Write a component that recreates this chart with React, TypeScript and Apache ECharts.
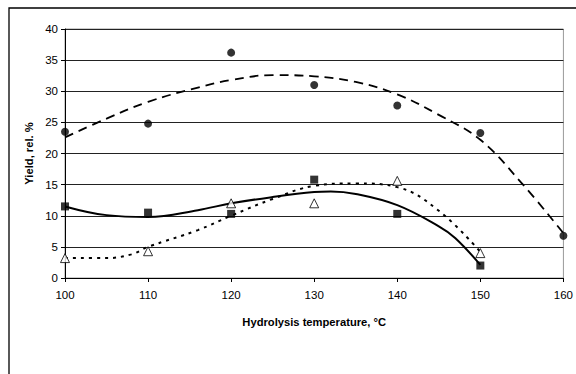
import React, { useEffect, useRef } from "react";
import * as echarts from "echarts";

const temps = [100, 110, 120, 130, 140, 150, 160];
const circleVals = [23.5, 24.8, 36.2, 31.0, 27.7, 23.3, 6.8];
const squareTemps = [100, 110, 120, 130, 140, 150];
const squareVals = [11.5, 10.5, 10.3, 15.8, 10.3, 2.0];
const triangleTemps = [100, 110, 120, 130, 140, 150];
const triangleVals = [3.2, 4.3, 12.0, 12.0, 15.6, 4.0];

// trend curves
const dashTemps = [100, 105, 110, 116, 120, 125, 130, 135, 140, 145, 150, 155, 160];
const dashVals = [22.6, 25.6, 28.3, 30.6, 31.8, 32.6, 32.4, 31.5, 29.5, 26.2, 22.2, 15.2, 7.2];
const solidTemps = [100, 105, 110, 116, 120, 125, 130, 132, 135, 140, 145, 147, 150];
const solidVals = [11.5, 10.1, 9.8, 10.9, 12.0, 13.0, 13.8, 13.9, 13.5, 11.7, 8.3, 6.4, 2.1];
const dotTemps = [100, 105, 108, 110, 116, 120, 125, 130, 135, 140, 145, 150];
const dotVals = [3.2, 3.2, 3.8, 5.0, 7.7, 10.0, 12.7, 14.8, 15.2, 14.6, 10.8, 4.2];

const xTitle = "Hydrolysis temperature, °C";
const yTitle = "Yield, rel. %";

const zip = (xs: number[], ys: number[]) => xs.map((x, i) => [x, ys[i]]);

export default function App() {
  const ref = useRef<HTMLDivElement>(null);
  useEffect(() => {
    if (!ref.current) return;
    const chart = echarts.init(ref.current, null, { renderer: "svg" });
    const font = "'Liberation Sans', Arial, sans-serif";
    chart.setOption({
      animation: false,
      backgroundColor: "#fff",
      textStyle: { fontFamily: font },
      graphic: [
        {
          type: "rect",
          shape: { x: 9, y: 8, width: 600, height: 400 },
          style: { fill: "none", stroke: "#000", lineWidth: 1.3 },
          silent: true,
          z: -1,
        },
      ],
      grid: { left: 65, right: 12, top: 29, bottom: 96, show: true, borderColor: "#999", borderWidth: 1, backgroundColor: "transparent" },
      xAxis: {
        type: "value",
        min: 100,
        max: 160,
        interval: 10,
        name: xTitle,
        nameLocation: "middle",
        nameGap: 38,
        nameTextStyle: { fontWeight: "bold", fontSize: 11.2, color: "#000", fontFamily: font },
        axisLine: { onZero: false, lineStyle: { color: "#000", width: 1 } },
        axisTick: { show: true, length: 4, lineStyle: { color: "#000" } },
        axisLabel: { color: "#000", fontSize: 11.5, margin: 11, fontFamily: font },
        splitLine: { show: false },
      },
      yAxis: {
        type: "value",
        min: 0,
        max: 40,
        interval: 5,
        name: yTitle,
        nameLocation: "middle",
        nameGap: 25,
        nameTextStyle: { fontWeight: "bold", fontSize: 11.2, color: "#000", fontFamily: font },
        axisLine: { show: true, lineStyle: { color: "#000", width: 1 } },
        axisTick: { show: true, length: 4, lineStyle: { color: "#000" } },
        axisLabel: { color: "#000", fontSize: 11.5, margin: 7, fontFamily: font },
        splitLine: { show: true, lineStyle: { color: "#222", width: 1 } },
      },
      series: [
        {
          type: "line",
          data: zip(dashTemps, dashVals),
          smooth: 0.4,
          showSymbol: false,
          lineStyle: { color: "#000", width: 1.8, type: [9, 6] },
          z: 2,
        },
        {
          type: "line",
          data: zip(solidTemps, solidVals),
          smooth: 0.4,
          showSymbol: false,
          lineStyle: { color: "#000", width: 2 },
          z: 2,
        },
        {
          type: "line",
          data: zip(dotTemps, dotVals),
          smooth: 0.4,
          showSymbol: false,
          lineStyle: { color: "#000", width: 2, type: [3, 5] },
          z: 2,
        },
        {
          type: "scatter",
          data: zip(temps, circleVals),
          symbol: "circle",
          symbolSize: 8,
          itemStyle: { color: "#000" },
          z: 3,
        },
        {
          type: "scatter",
          data: zip(squareTemps, squareVals),
          symbol: "rect",
          symbolSize: 8,
          itemStyle: { color: "#000" },
          z: 3,
        },
        {
          type: "scatter",
          data: zip(triangleTemps, triangleVals),
          symbol: "triangle",
          symbolSize: 9,
          itemStyle: { color: "#fff", borderColor: "#000", borderWidth: 1 },
          z: 3,
        },
      ],
    });
    return () => chart.dispose();
  }, []);
  return <div ref={ref} style={{ width: 576, height: 374, position: "absolute", left: 0, top: 0 }} />;
}
